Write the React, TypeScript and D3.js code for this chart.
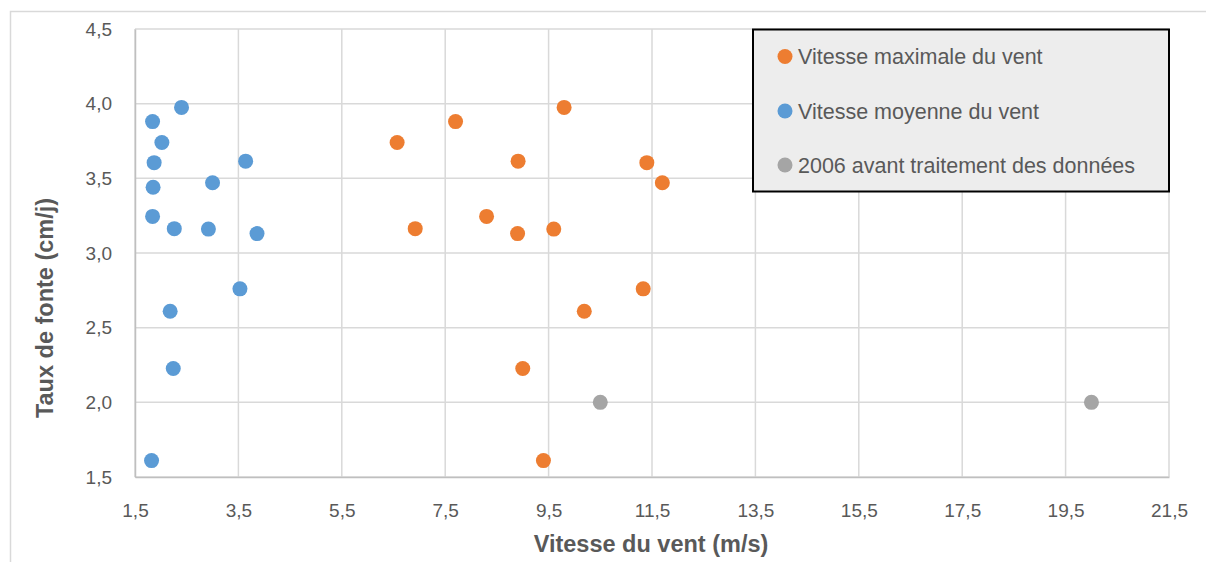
import React, { useEffect, useRef } from "react";
import * as d3 from "d3";

// Vitesse moyenne du vent (m/s) et taux de fonte (cm/j)
const meanWindSpeed = [1.84, 2.4, 2.02, 1.87, 3.64, 1.85, 3.0, 1.84, 2.26, 2.92, 3.86, 3.53, 2.18, 2.24, 1.82];
const meanWindRate = [3.88, 3.975, 3.74, 3.605, 3.615, 3.44, 3.47, 3.245, 3.163, 3.16, 3.13, 2.76, 2.61, 2.227, 1.61];

// Vitesse maximale du vent (m/s) et taux de fonte (cm/j)
const maxWindSpeed = [6.57, 7.7, 9.8, 8.91, 11.4, 11.7, 6.92, 8.3, 8.9, 9.6, 11.33, 10.19, 9.0, 9.4];
const maxWindRate = [3.74, 3.88, 3.975, 3.615, 3.605, 3.47, 3.163, 3.245, 3.13, 3.16, 2.76, 2.61, 2.227, 1.61];

// 2006 avant traitement des données
const rawSpeed = [10.5, 20.0];
const rawRate = [2.0, 2.0];

const xTicks = [1.5, 3.5, 5.5, 7.5, 9.5, 11.5, 13.5, 15.5, 17.5, 19.5, 21.5];
const yTicks = [1.5, 2.0, 2.5, 3.0, 3.5, 4.0, 4.5];

const seriesNames = [
  "Vitesse maximale du vent",
  "Vitesse moyenne du vent",
  "2006 avant traitement des données",
];
const seriesColors = ["#ED7D31", "#5B9BD5", "#A5A5A5"];

const App = () => {
  const svgRef = useRef<SVGSVGElement>(null);

  useEffect(() => {
    document.body.style.margin = "0";

    const width = 1206;
    const height = 562;
    const margin = { top: 29, right: 37, bottom: 85, left: 135 };
    const font = "'Liberation Sans', Arial, sans-serif";
    const textColor = "#595959";
    const gridColor = "#D9D9D9";

    const svg = d3.select(svgRef.current);
    svg.selectAll("*").remove();
    svg.attr("width", width).attr("height", height);

    svg.append("rect").attr("width", width).attr("height", height).attr("fill", "#fff");

    // chart area border
    svg.append("path")
      .attr("d", `M10.5,${height} V11.5 H${width}`)
      .attr("fill", "none")
      .attr("stroke", gridColor)
      .attr("stroke-width", 1.5);

    const x = d3.scaleLinear().domain([1.5, 21.5]).range([margin.left, width - margin.right]);
    const y = d3.scaleLinear().domain([1.5, 4.5]).range([height - margin.bottom, margin.top]);

    const fmt = (d: number) => d3.format(".1f")(d).replace(".", ",");

    // grid
    const grid = svg.append("g").attr("stroke", gridColor).attr("stroke-width", 1.5);
    grid.selectAll("line.v")
      .data(xTicks)
      .join("line")
      .attr("x1", (d) => x(d))
      .attr("x2", (d) => x(d))
      .attr("y1", y(1.5))
      .attr("y2", y(4.5));
    grid.selectAll("line.h")
      .data(yTicks)
      .join("line")
      .attr("class", "h")
      .attr("x1", x(1.5))
      .attr("x2", x(21.5))
      .attr("y1", (d) => y(d))
      .attr("y2", (d) => y(d));

    // axes
    const xAxis = svg.append("g")
      .attr("transform", `translate(0,${y(1.5)})`)
      .call(d3.axisBottom(x).tickValues(xTicks).tickFormat(fmt as any).tickSize(0).tickPadding(27));
    const yAxis = svg.append("g")
      .attr("transform", `translate(${x(1.5)},0)`)
      .call(d3.axisLeft(y).tickValues(yTicks).tickFormat(fmt as any).tickSize(0).tickPadding(23));
    [xAxis, yAxis].forEach((g) => {
      g.select(".domain").attr("stroke", "#BFBFBF").attr("stroke-width", 1.5);
      g.selectAll("text")
        .attr("fill", textColor)
        .style("font-family", font)
        .style("font-size", "19px");
    });

    // axis titles
    svg.append("text")
      .attr("x", 651)
      .attr("y", 552)
      .attr("text-anchor", "middle")
      .attr("fill", textColor)
      .style("font-family", font)
      .style("font-size", "23.5px")
      .style("font-weight", "bold")
      .text("Vitesse du vent (m/s)");
    svg.append("text")
      .attr("transform", "translate(53,308) rotate(-90)")
      .attr("text-anchor", "middle")
      .attr("fill", textColor)
      .style("font-family", font)
      .style("font-size", "23.5px")
      .style("font-weight", "bold")
      .text("Taux de fonte (cm/j)");

    // points
    const series = [
      { xs: maxWindSpeed, ys: maxWindRate },
      { xs: meanWindSpeed, ys: meanWindRate },
      { xs: rawSpeed, ys: rawRate },
    ];
    series.forEach((s, i) => {
      svg.append("g")
        .attr("fill", seriesColors[i])
        .selectAll("circle")
        .data(s.xs)
        .join("circle")
        .attr("cx", (d) => x(d))
        .attr("cy", (_d, j) => y(s.ys[j]))
        .attr("r", 7.5);
    });

    // legend
    const legend = svg.append("g");
    legend.append("rect")
      .attr("x", 753)
      .attr("y", 29.5)
      .attr("width", 416)
      .attr("height", 162)
      .attr("fill", "#EDEDED")
      .attr("stroke", "#000")
      .attr("stroke-width", 2);
    const items = legend.selectAll("g.item")
      .data(seriesNames)
      .join("g")
      .attr("transform", (_d, i) => `translate(785,${[56.5, 111, 165][i]})`);
    items.append("circle").attr("r", 7.5).attr("fill", (_d, i) => seriesColors[i]);
    items.append("text")
      .attr("x", 13)
      .attr("dy", "0.36em")
      .attr("fill", textColor)
      .style("font-family", font)
      .style("font-size", "21.5px")
      .text((d) => d);
  }, []);

  return <svg ref={svgRef} style={{ display: "block" }}></svg>;
};

export default App;
